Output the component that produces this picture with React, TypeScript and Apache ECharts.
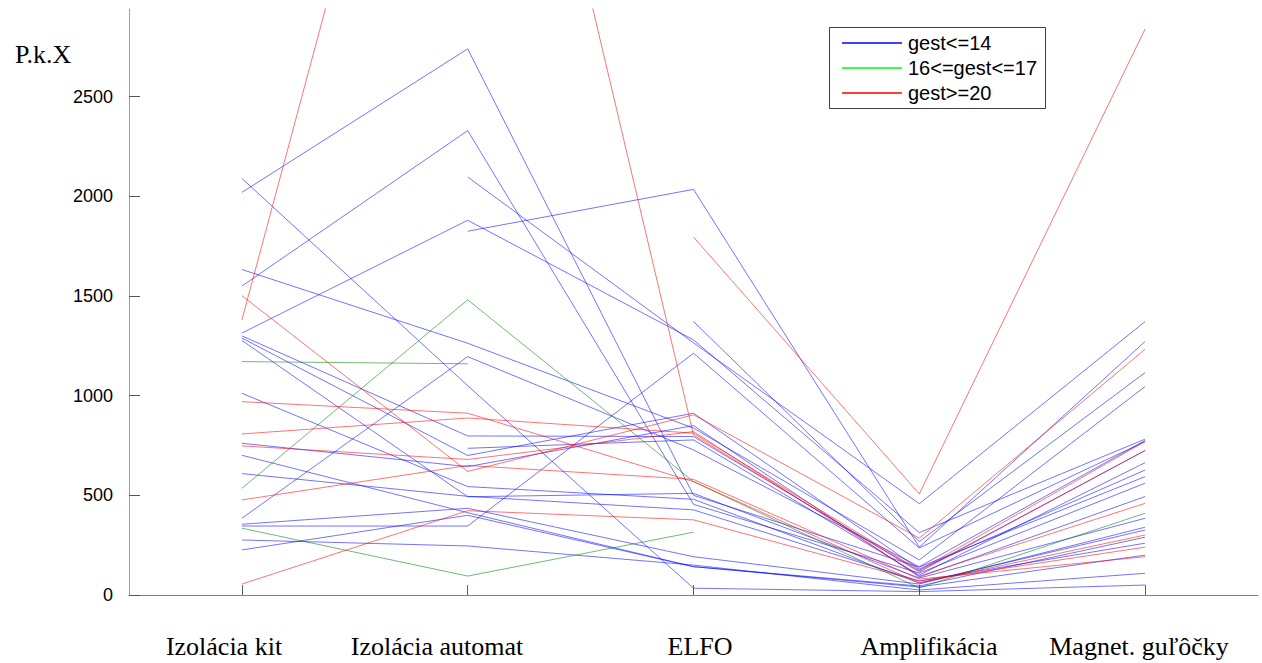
import React, { useEffect, useRef } from "react";
import * as echarts from "echarts";

const categories = ["Izolácia kit", "Izolácia automat", "ELFO", "Amplifikácia", "Magnet. guľôčky"];
const categoryLabelCenters = [224, 437, 700, 929, 1139];
const yTicks = [0, 500, 1000, 1500, 2000, 2500];
const legendLabels = ["gest<=14", "16<=gest<=17", "gest>=20"];

type Row = (number | null)[];

const blueLines: Row[] = [
  [2020, 2740, 500, 140, 594],
  [1550, 2330, 455, 110, 561],
  [2090, 1050, 34, 17, 50],
  [null, 2097, 1265, 458, 1372],
  [1314, 1880, 1280, 313, 782],
  [null, 1825, 2035, 240, 1272],
  [null, null, 1372, 268, 1116],
  [1633, 1263, 837, 176, 1046],
  [385, 1196, 728, 142, 775],
  [1300, 798, 795, 120, 725],
  [null, 736, 778, 100, 664],
  [346, 346, 1213, 236, 770],
  [1289, 700, 912, 130, 627],
  [761, 644, 850, 90, 494],
  [1277, 493, 510, 85, 385],
  [1012, 544, 480, 60, 326],
  [609, 495, 427, 70, 260],
  [701, 413, 142, 40, 200],
  [355, 435, 192, 55, 340],
  [276, 246, 150, 25, 109],
  [226, 400, 142, 45, 290],
];

const greenLines: Row[] = [
  [1171, 1160, null, null, null],
  [535, 1481, 569, 35, 410],
  [335, 95, 315, null, null],
];

const redLines: Row[] = [
  [1380, 5600, 803, 115, 725],
  [1502, 620, 904, 285, 1233],
  [970, 912, 569, 60, 301],
  [808, 888, 812, 125, 770],
  [748, 680, 820, 95, 460],
  [477, 650, 580, 80, 192],
  [55, 423, 377, 70, 240],
  [null, null, 1796, 507, 2840],
];

const groups = [
  { rows: blueLines, color: "#0000ff", legend: "#0000ff" },
  { rows: greenLines, color: "#008000", legend: "#00ff00" },
  { rows: redLines, color: "#ff0000", legend: "#ff0000" },
];

export default function App() {
  const ref = useRef<HTMLDivElement>(null);
  useEffect(() => {
    if (!ref.current) return;
    const chart = echarts.init(ref.current, undefined, { renderer: "svg" });
    const series: any[] = [];
    groups.forEach((g) => {
      g.rows.forEach((r) => {
        series.push({
          type: "line",
          data: r,
          symbol: "none",
          silent: true,
          connectNulls: false,
          lineStyle: { color: g.color, width: 1, opacity: 0.55 },
        });
      });
    });
    const graphics: any[] = [
      {
        type: "rect",
        shape: { x: 829.5, y: 27.5, width: 216, height: 81 },
        style: { fill: "#fff", stroke: "#404040", lineWidth: 1 },
        z: 100,
      },
    ];
    legendLabels.forEach((t, i) => {
      const y = 43 + i * 25;
      graphics.push({
        type: "line",
        shape: { x1: 842, y1: y, x2: 902, y2: y },
        style: { stroke: groups[i].legend, lineWidth: 1.5 },
        z: 101,
      });
      graphics.push({
        type: "text",
        x: 908,
        y: y,
        style: {
          text: t,
          fill: "#000",
          font: '20px "Liberation Sans", Arial, sans-serif',
          verticalAlign: "middle",
        },
        z: 101,
      });
    });
    categories.forEach((c, i) => {
      graphics.push({
        type: "text",
        x: categoryLabelCenters[i],
        y: 646,
        style: {
          text: c,
          fill: "#000",
          font: '26px "Liberation Serif", "Times New Roman", serif',
          align: "center",
          verticalAlign: "middle",
        },
        z: 101,
      });
    });
    chart.setOption({
      animation: false,
      backgroundColor: "#fff",
      title: {
        text: "P.k.X",
        left: 10,
        top: 36,
        textStyle: {
          fontFamily: '"Liberation Serif", "Times New Roman", serif',
          fontSize: 26,
          fontWeight: "normal",
          color: "#000",
        },
      },
      grid: { left: 129, right: 4, top: 9, bottom: 68, containLabel: false },
      xAxis: {
        type: "category",
        data: categories,
        boundaryGap: true,
        axisLine: { show: true, lineStyle: { color: "#808080", width: 1 } },
        axisTick: { show: true, inside: true, alignWithLabel: true, length: 10, lineStyle: { color: "#606060" } },
        axisLabel: { show: false },
        splitLine: { show: false },
      },
      yAxis: {
        type: "value",
        min: 0,
        max: 2940,
        interval: 500,
        axisLine: { show: true, lineStyle: { color: "#a0a0a0", width: 1 } },
        axisTick: {
          show: true,
          inside: true,
          length: 11,
          lineStyle: { color: "#555555", width: 1 },
          customValues: yTicks,
        },
        axisLabel: {
          margin: 16,
          color: "#000",
          fontSize: 18,
          fontFamily: '"Liberation Sans", Arial, sans-serif',
          customValues: yTicks,
          formatter: (v: number) => (v % 500 === 0 ? String(v) : ""),
        },
        splitLine: { show: false },
      },
      graphic: graphics,
      series,
    });
    return () => chart.dispose();
  }, []);
  return <div ref={ref} style={{ width: 1262, height: 663, position: "absolute", left: 0, top: 0 }} />;
}
